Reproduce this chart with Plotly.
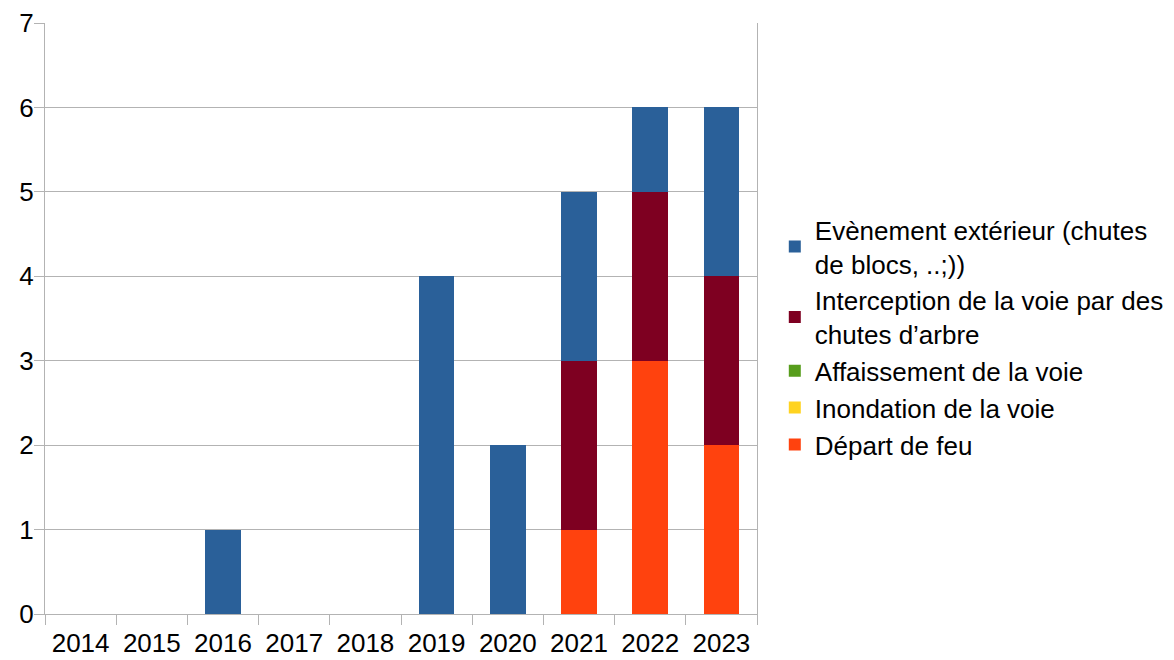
import plotly.graph_objects as go

years = ["2014", "2015", "2016", "2017", "2018", "2019", "2020", "2021", "2022", "2023"]

depart_feu = [0, 0, 0, 0, 0, 0, 0, 1, 3, 2]
inondation = [0, 0, 0, 0, 0, 0, 0, 0, 0, 0]
affaissement = [0, 0, 0, 0, 0, 0, 0, 0, 0, 0]
interception = [0, 0, 0, 0, 0, 0, 0, 2, 2, 2]
evenement = [0, 0, 1, 0, 0, 4, 2, 2, 1, 2]

series = [
    ("Départ de feu", depart_feu, "#ff420e"),
    ("Inondation de la voie", inondation, "#ffd320"),
    ("Affaissement de la voie", affaissement, "#579d1c"),
    ("Interception de la voie par des<br>chutes d’arbre", interception, "#7e0021"),
    ("Evènement extérieur (chutes<br>de blocs, ..;))", evenement, "#2a6099"),
]

fig = go.Figure()
for name, vals, color in series:
    fig.add_trace(go.Bar(x=years, y=vals, name=name, marker_color=color,
                         marker_line_width=0))

grid = "#b3b3b3"
fs = 26
fig.update_layout(
    barmode="stack",
    bargap=0.5,
    width=1174,
    height=660,
    margin=dict(l=45, r=417, t=23, b=46, autoexpand=False),
    paper_bgcolor="white",
    plot_bgcolor="white",
    font=dict(family="Liberation Sans, Arial, sans-serif", size=fs, color="black"),
    legend=dict(
        x=1.025, xanchor="left", y=0.69, yanchor="top",
        traceorder="reversed",
        font=dict(size=fs),
        itemwidth=30,
        tracegroupgap=0,
    ),
    xaxis=dict(
        type="category",
        automargin=False,
        showline=True, linecolor=grid, linewidth=1,
        ticks="outside", tickson="boundaries", ticklen=10, tickcolor=grid,
        showgrid=False,
        tickfont=dict(size=fs),
        ticklabelstandoff=6,
    ),
    yaxis=dict(
        range=[0, 7], dtick=1,
        automargin=False,
        showline=True, linecolor=grid, linewidth=1, mirror=True,
        ticks="outside", ticklen=10, tickcolor=grid,
        showgrid=True, gridcolor=grid, gridwidth=1,
        zeroline=False,
        tickfont=dict(size=fs),
        ticklabelstandoff=-5,
    ),
)

fig.write_html("out.html")
